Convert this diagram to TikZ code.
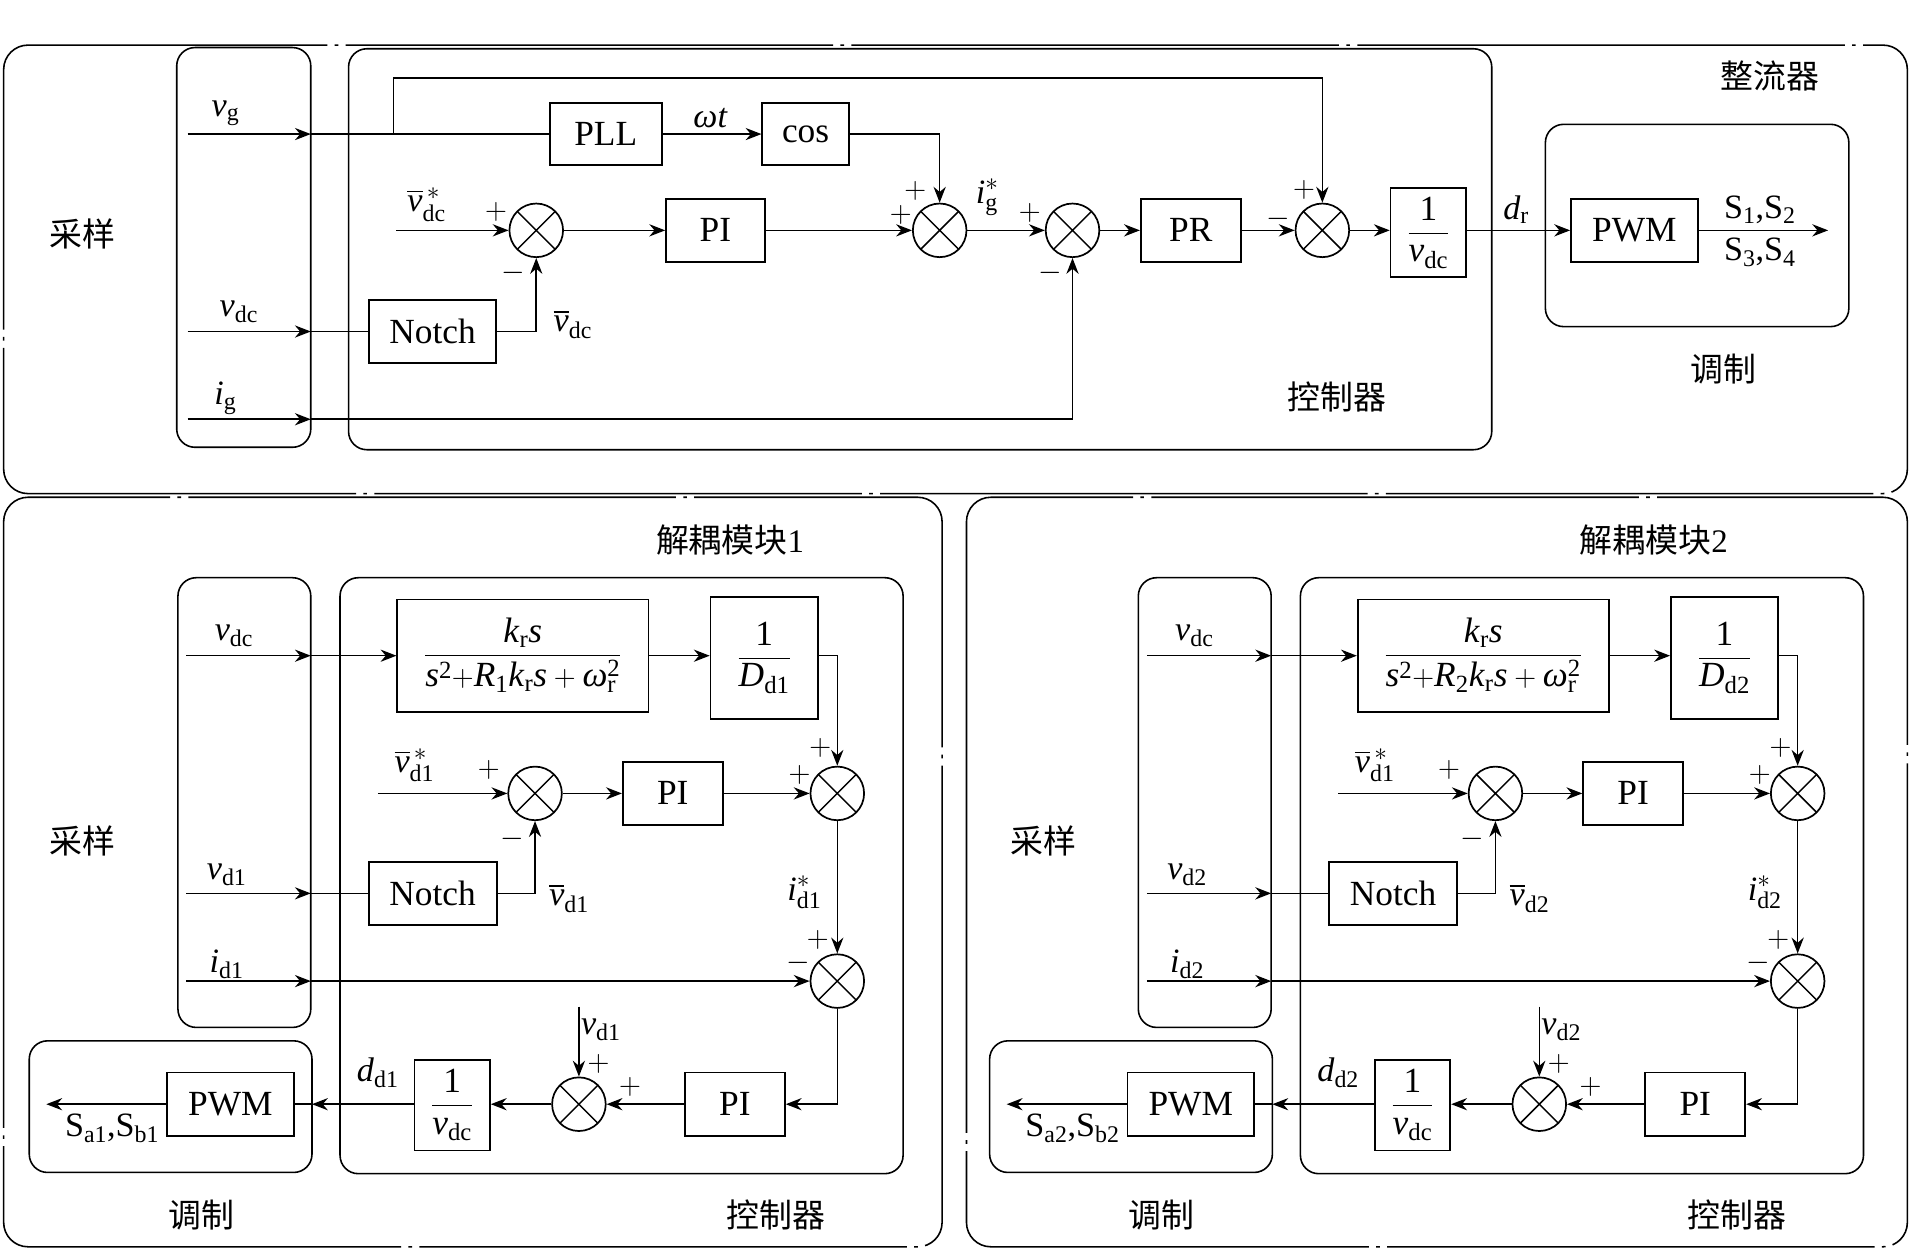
\documentclass[tikz,border=0pt]{standalone}
\usepackage{fontspec}
\usepackage{amsmath}
\setmainfont{Liberation Serif}
\newfontfamily\cjk{Noto Sans CJK SC}
\usetikzlibrary{arrows.meta,calc}
\newcommand\iv[1]{\text{\textit{#1}}}
\newcommand\ur[1]{\text{#1}}
\begin{document}
\begin{tikzpicture}[x=1pt,y=-1pt,
  every node/.style={font=\fontsize{28}{32}\selectfont},
  blk/.style={draw, line width=1.4pt, inner sep=0pt, font=\fontsize{29}{32}\selectfont},
  bx/.style 2 args={blk, minimum width=#1pt, minimum height=#2pt},
  sumn/.style={circle, draw, line width=1.4pt, minimum size=44pt, inner sep=0pt,
    path picture={\draw[line width=1.2pt] (path picture bounding box.center) +(45:22) -- +(225:22)
      (path picture bounding box.center) +(135:22) -- +(-45:22);}},
  sig/.style={line width=1.3pt, -{Stealth[length=13pt,width=10pt]}},
  wire/.style={line width=1.3pt},
  grp/.style={draw, line width=1.3pt, rounded corners=15pt},
  outer/.style={draw, line width=1.3pt, rounded corners=20pt, dash pattern=on 400pt off 6pt on 3pt off 6pt},
  cn/.style={font=\cjk\fontsize{27}{30}\selectfont},
  lb/.style={inner sep=0pt},
  sg/.style={inner sep=0pt, font=\fontsize{27}{28}\selectfont},
]
\useasboundingbox (0,0) rectangle (1568,1026);

% ===== Top section: rectifier =====
\draw[outer] (3,200) |- (1565,37) |- (3,405) -- cycle;
\draw[grp] (145,39) rectangle (255,367);
\draw[grp] (286,40) rectangle (1224,369);
\draw[grp] (1268,102) rectangle (1517,268);
\node[cn] (t1) at (68,192) {采样};
\node[cn] (t2) at (1452,62) {整流器};
\node[cn] (t3) at (1414,303) {调制};
\node[cn] (t4) at (1097,326) {控制器};

\node[bx={92}{51}] (pll) at (497,110) {PLL};
\node[bx={71}{51}] (cos) at (661,110) {cos};
\node[sumn] (s1) at (440,189) {};
\node[bx={81}{52}] (pi) at (587,189) {PI};
\node[sumn] (s2) at (771,189) {};
\node[sumn] (s3) at (880,189) {};
\node[bx={82}{52}] (pr) at (977,189) {PR};
\node[sumn] (s4) at (1085,189) {};
\node[bx={62}{73}] (inv) at (1172,191) {$\dfrac{\ur{1}}{\iv{v}_{\ur{dc}}}$};
\node[bx={104}{52}] (pwm) at (1341,189) {PWM};
\node[bx={104}{52}] (notch) at (355,272) {Notch};

\coordinate (vgA) at (154,110);
\coordinate (vgB) at (255,110);
\coordinate (br) at (323,110);
\draw[sig] (vgA) -- (vgB);
\draw[wire] (vgB) -- (pll.west);
\draw[sig] (br) -- ++(0,-46) -| (s4.north);
\draw[sig] (pll) -- (cos);
\draw[sig] (cos.east) -| (s2.north);
\coordinate (vr) at (325,189);
\draw[sig] (vr) -- (s1.west);
\draw[sig] (s1) -- (pi);
\draw[sig] (pi) -- (s2);
\draw[sig] (s2) -- (s3);
\draw[sig] (s3) -- (pr);
\draw[sig] (pr) -- (s4);
\draw[sig] (s4.east) -- (s4.east -| inv.west);
\draw[sig] (inv.east |- s4.east) -- (pwm.west);
\coordinate (out) at (1500,189);
\draw[sig] (pwm.east) -- (out);
\coordinate (vdA) at (154,272);
\coordinate (vdB) at (255,272);
\draw[sig] (vdA) -- (vdB);
\draw[wire] (vdB) -- (notch.west);
\draw[sig] (notch.east) -| (s1.south);
\coordinate (igA) at (154,344);
\coordinate (igB) at (255,344);
\draw[sig] (igA) -- (igB);
\draw[sig] (igB) -| (s3.south);

\node[lb] (lvg) at (185,93) {$\iv{v}_{\ur{g}}$};
\node[lb] (lwt) at (583,97) {\textit{ωt}};
\node[lb] (lvr) at (350,168) {$\overline{\iv{v}}^{\,*}_{\ur{dc}}$};
\node[lb] (lig) at (810,162) {$\iv{i}^{*}_{\ur{g}}$};
\node[lb] (ldr) at (1244,172) {$\iv{d}_{\ur{r}}$};
\node[lb] (ls12) at (1444,172) {S\textsubscript{1},S\textsubscript{2}};
\node[lb] (ls34) at (1444,207) {S\textsubscript{3},S\textsubscript{4}};
\node[lb] (lvdc) at (196,256) {$\iv{v}_{\ur{dc}}$};
\node[lb] (lvdb) at (470,266) {$\overline{\iv{v}}_{\ur{dc}}$};
\node[lb] (ligg) at (185,327) {$\iv{i}_{\ur{g}}$};
\node[sg] (g1) at (407,174) {$+$};
\node[sg] (g2) at (421,224) {$-$};
\node[sg] (g3) at (751,157) {$+$};
\node[sg] (g4) at (739,176) {$+$};
\node[sg] (g5) at (845,175) {$+$};
\node[sg] (g6) at (862,224) {$-$};
\node[sg] (g7) at (1070,156) {$+$};
\node[sg] (g8) at (1049,180) {$-$};

% ===== Bottom sections: decoupling modules =====
\draw[outer] (3,700) |- (773,408) |- (3,1023) -- cycle;
\draw[outer] (793,700) |- (1565,408) |- (793,1023) -- cycle;
\node[cn] (mt1) at (599,443) {解耦模块\fontspec{Liberation Serif}1};
\node[cn] (mt2) at (1357,443) {解耦模块\fontspec{Liberation Serif}2};

\foreach \k/\dx in {1/0,2/788}{
\begin{scope}[xshift=\dx pt]
\draw[grp] (146,474) rectangle (255,843);
\draw[grp] (279,474) rectangle (741,963);
\draw[grp] (24,854) rectangle (256,962);
\node[cn] (ca\k) at (68,690) {采样};
\node[cn] (cb\k) at (165,997) {调制};
\node[cn] (cc\k) at (637,997) {控制器};

\node[bx={206}{92}] (fil\k) at (429,538) {$\dfrac{\iv{k}_{\ur{r}}\iv{s}}{\iv{s}^{\ur{2}}{+}\iv{R}_{\ur{\k}}\iv{k}_{\ur{r}}\iv{s}+\iv{ω}_{\ur{r}}^{\ur{2}}}$};
\node[bx={88}{100}] (dinv\k) at (627,540) {$\dfrac{\ur{1}}{\iv{D}_{\ur{d\k}}}$};
\node[sumn] (sa\k) at (687,651) {};
\node[sumn] (sb\k) at (439,651) {};
\node[bx={82}{52}] (pia\k) at (552,651) {PI};
\node[bx={105}{52}] (no\k) at (355,733) {Notch};
\node[sumn] (sc\k) at (687,805) {};
\node[bx={82}{52}] (pib\k) at (603,906) {PI};
\node[sumn] (sd\k) at (475,906) {};
\node[bx={62}{74}] (iv\k) at (371,907) {$\dfrac{\ur{1}}{\iv{v}_{\ur{dc}}}$};
\node[bx={104}{52}] (pw\k) at (189,906) {PWM};

\coordinate (a1\k) at (153,538);
\coordinate (a2\k) at (255,538);
\draw[sig] (a1\k) -- (a2\k);
\draw[sig] (a2\k) -- (fil\k.west);
\draw[sig] (fil\k.east) -- (fil\k.east -| dinv\k.west);
\draw[sig] (dinv\k.east |- fil\k.east) -| (sa\k.north);
\coordinate (r\k) at (310,651);
\draw[sig] (r\k) -- (sb\k.west);
\draw[sig] (sb\k) -- (pia\k);
\draw[sig] (pia\k) -- (sa\k);
\coordinate (b1\k) at (153,733);
\coordinate (b2\k) at (255,733);
\draw[sig] (b1\k) -- (b2\k);
\draw[wire] (b2\k) -- (no\k.west);
\draw[sig] (no\k.east) -| (sb\k.south);
\draw[sig] (sa\k.south) -- (sc\k.north);
\coordinate (c1\k) at (153,805);
\coordinate (c2\k) at (255,805);
\draw[sig] (c1\k) -- (c2\k);
\draw[sig] (c2\k) -- (sc\k.west);
\draw[sig] (sc\k.south) |- (pib\k.east);
\draw[sig] (pib\k.west) -- (sd\k.east);
\coordinate (vv\k) at (475,826);
\draw[sig] (vv\k) -- (sd\k.north);
\draw[sig] (sd\k.west) -- (sd\k.west -| iv\k.east);
\coordinate (m\k) at (256,906);
\draw[sig] (iv\k.west |- sd\k.west) -- (m\k);
\draw[wire] (m\k) -- (pw\k.east);
\coordinate (so\k) at (38,906);
\draw[sig] (pw\k.west) -- (so\k);

\node[lb] (x1\k) at (192,522) {$\iv{v}_{\ur{dc}}$};
\node[lb] (x2\k) at (340,628) {$\overline{\iv{v}}^{\,*}_{\ur{d1}}$};
\node[lb] (x3\k) at (186,718) {$\iv{v}_{\ur{d\k}}$};
\node[lb] (x4\k) at (467,737) {$\overline{\iv{v}}_{\ur{d\k}}$};
\node[lb] (x5\k) at (660,732) {$\iv{i}^{*}_{\ur{d\k}}$};
\node[lb] (x6\k) at (186,791) {$\iv{i}_{\ur{d\k}}$};
\node[lb] (x7\k) at (493,845) {$\iv{v}_{\ur{d\k}}$};
\node[lb] (x8\k) at (310,880) {$\iv{d}_{\ur{d\k}}$};
\node[lb] (x9\k) at (92,926) {S\textsubscript{a\k},S\textsubscript{b\k}};
\node[sg] (h1\k) at (401,632) {$+$};
\node[sg] (h2\k) at (673,614) {$+$};
\node[sg] (h3\k) at (656,636) {$+$};
\node[sg] (h4\k) at (420,688) {$-$};
\node[sg] (h5\k) at (671,771) {$+$};
\node[sg] (h6\k) at (655,790) {$-$};
\node[sg] (h7\k) at (517,892) {$+$};
\node[sg] (h8\k) at (491,873) {$+$};
\end{scope}
}
\end{tikzpicture}
\end{document}
